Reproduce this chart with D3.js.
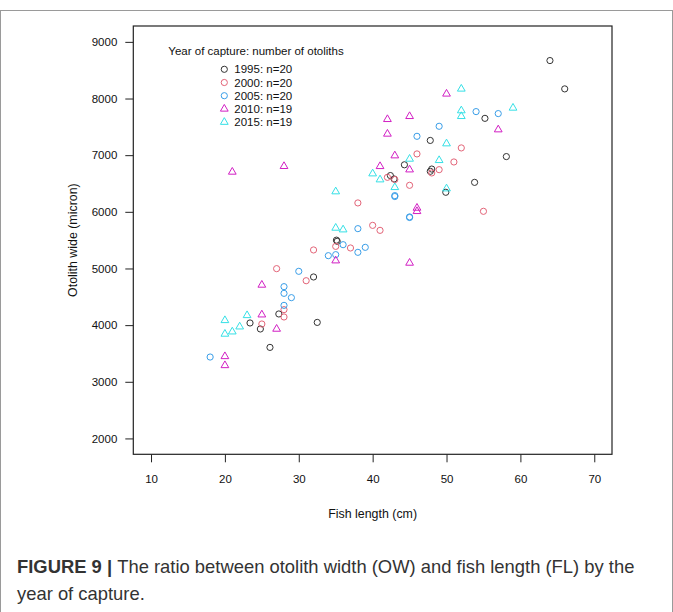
<!DOCTYPE html>
<html>
<head>
<meta charset="utf-8">
<script src="https://cdn.jsdelivr.net/npm/d3@7"></script>
<style>
  body { margin: 0; background: #fff; }
  svg text { font-family: "Liberation Sans", Arial, Helvetica, sans-serif; }
</style>
</head>
<body>
<svg id="chart" width="673" height="612"></svg>
<script>
// fish length (cm) and otolith width (micron) per year of capture
const len1995 = [64, 66, 55.2, 47.8, 58.1, 44.3, 48, 47.8, 42.4, 42.9, 53.8, 49.9, 35.1, 35.2, 32, 27.3, 23.4, 24.8, 32.5, 26.1]
const ow1995 = [8670, 8170, 7650, 7260, 6975, 6830, 6755, 6715, 6640, 6580, 6520, 6345, 5500, 5480, 4850, 4197, 4038, 3932, 4048, 3607]

const len2000 = [52, 46, 51, 49, 48, 42, 45, 38, 55, 40, 41, 35, 37, 32, 27, 31, 28, 28, 25, 43]
const ow2000 = [7128, 7022, 6880, 6744, 6686, 6609, 6468, 6157, 6009, 5761, 5673, 5390, 5362, 5327, 4997, 4784, 4273, 4144, 4020, 6570]

const len2005 = [54, 57, 49, 46, 43, 45, 39, 38, 36, 38, 34, 35, 30, 28, 28, 29, 28, 18, 43, 45]
const ow2005 = [7769, 7734, 7510, 7333, 6286, 5910, 5373, 5703, 5420, 5285, 5226, 5244, 4950, 4679, 4561, 4485, 4349, 3437, 6270, 5900]

const len2010 = [50, 57, 42, 45, 42, 43, 41, 45, 46, 46, 45, 35, 25, 25, 27, 20, 20, 21, 28]
const ow2010 = [8082, 7451, 7633, 7686, 7375, 6992, 6803, 6744, 6068, 6009, 5097, 5138, 4709, 4184, 3932, 3448, 3289, 6704, 6804]

const len2015 = [52, 59, 52, 52, 50, 45, 49, 40, 41, 43, 50, 35, 35, 36, 20, 23, 22, 21, 20]
const ow2015 = [8170, 7834, 7787, 7686, 7204, 6933, 6909, 6674, 6568, 6432, 6409, 6357, 5715, 5685, 4084, 4172, 3972, 3884, 3844]

const years = ['1995', '2000', '2005', '2010', '2015']
const counts = [20, 20, 20, 19, 19]
const colors = ['#333333', '#E36478', '#3A9EE8', '#D21FC4', '#35E0E6']
const shapes = ['circle', 'circle', 'circle', 'triangle', 'triangle']

const xTicks = [10, 20, 30, 40, 50, 60, 70]
const yTicks = [2000, 3000, 4000, 5000, 6000, 7000, 8000, 9000]

const series = [
    [len1995, ow1995], [len2000, ow2000], [len2005, ow2005], [len2010, ow2010], [len2015, ow2015]
]

const svg = d3.select('#chart')

// outer frame of the figure
svg.append('rect')
    .attr('x', 0.5)
    .attr('y', 10.5)
    .attr('width', 672)
    .attr('height', 620)
    .attr('fill', 'none')
    .attr('stroke', '#9a9a9a')
    .attr('stroke-width', 1)

const plot = { left: 133.3, right: 612, top: 26, bottom: 454.3 }

// R style 4% extension around xlim / ylim
const x = d3.scaleLinear().domain([7.6, 72.4]).range([plot.left, plot.right])
const y = d3.scaleLinear().domain([1720, 9280]).range([plot.bottom, plot.top])

const xAxis = svg.append('g')
    .attr('transform', `translate(0, ${plot.bottom})`)
    .call(d3.axisBottom(x).tickValues(xTicks).tickFormat(d3.format('d'))
        .tickSize(8).tickSizeOuter(0).tickPadding(13))
xAxis.select('.domain').remove()

const yAxis = svg.append('g')
    .attr('transform', `translate(${plot.left}, 0)`)
    .call(d3.axisLeft(y).tickValues(yTicks).tickFormat(d3.format('d'))
        .tickSize(8).tickSizeOuter(0).tickPadding(8))
yAxis.select('.domain').remove()

svg.selectAll('.tick line').attr('stroke', '#222')
svg.selectAll('.tick text')
    .style('font-size', '11.5px')
    .style('font-family', '"Liberation Sans", Arial, sans-serif')
    .attr('fill', '#111')

svg.append('rect')
    .attr('x', plot.left)
    .attr('y', plot.top)
    .attr('width', plot.right - plot.left)
    .attr('height', plot.bottom - plot.top)
    .attr('fill', 'none')
    .attr('stroke', '#222')
    .attr('stroke-width', 1.2)

svg.append('text')
    .attr('x', (plot.left + plot.right) / 2)
    .attr('y', 518)
    .attr('text-anchor', 'middle')
    .attr('font-size', '12.4px')
    .attr('fill', '#111')
    .text('Fish length (cm)')

svg.append('text')
    .attr('transform', `translate(77, ${(plot.top + plot.bottom) / 2}) rotate(-90)`)
    .attr('text-anchor', 'middle')
    .attr('font-size', '12.4px')
    .attr('fill', '#111')
    .text('Otolith wide (micron)')

const tri = d3.symbol().type(d3.symbolTriangle).size(26)

series.forEach((s, k) => {
    const pts = s[0].map((v, i) => [v, s[1][i]])
    const g = svg.append('g')
    if (shapes[k] === 'circle') {
        g.selectAll('circle')
            .data(pts)
            .enter()
            .append('circle')
            .attr('cx', (d) => x(d[0]))
            .attr('cy', (d) => y(d[1]))
            .attr('r', 3.1)
            .attr('fill', 'none')
            .attr('stroke', colors[k])
            .attr('stroke-width', 1)
    } else {
        g.selectAll('path')
            .data(pts)
            .enter()
            .append('path')
            .attr('d', tri)
            .attr('transform', (d) => `translate(${x(d[0])}, ${y(d[1])})`)
            .attr('fill', 'none')
            .attr('stroke', colors[k])
            .attr('stroke-width', 1)
    }
})

// legend
svg.append('text')
    .attr('x', 256)
    .attr('y', 55)
    .attr('text-anchor', 'middle')
    .attr('font-size', '11.5px')
    .attr('fill', '#111')
    .text('Year of capture: number of otoliths')

const legendItem = svg.append('g')
    .selectAll('g')
    .data(years)
    .enter()
    .append('g')
    .attr('transform', (d, i) => `translate(224.3, ${69.3 + i * 13.2})`)

legendItem.each(function (d, i) {
    const item = d3.select(this)
    if (shapes[i] === 'circle') {
        item.append('circle').attr('r', 3.1)
            .attr('fill', 'none').attr('stroke', colors[i])
    } else {
        item.append('path').attr('d', tri)
            .attr('fill', 'none').attr('stroke', colors[i])
    }
    item.append('text')
        .attr('x', 10)
        .attr('y', 4)
        .attr('font-size', '11.5px')
        .attr('fill', '#111')
        .text(`${d}: n=${counts[i]}`)
})

// caption
const caption = svg.append('text')
    .attr('font-size', '18.4px')
    .attr('fill', '#333')
caption.append('tspan')
    .attr('x', 17)
    .attr('y', 573)
    .attr('font-weight', 'bold')
    .text('FIGURE 9 | ')
caption.append('tspan')
    .text('The ratio between otolith width (OW) and fish length (FL) by the')
caption.append('tspan')
    .attr('x', 17)
    .attr('y', 600)
    .text('year of capture.')
</script>
</body>
</html>
